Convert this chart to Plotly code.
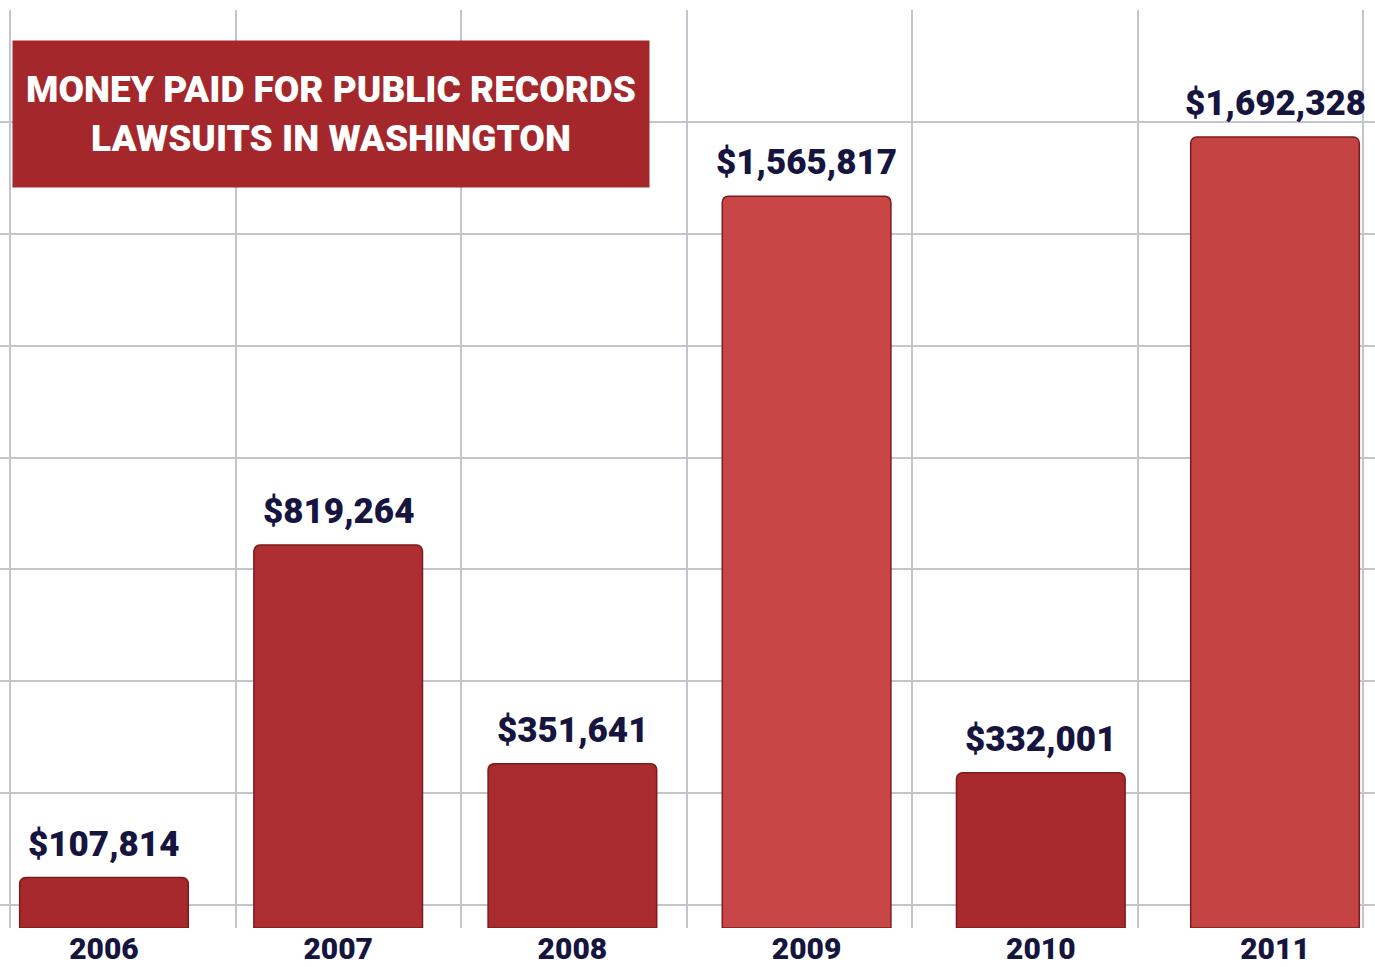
import plotly.graph_objects as go

# ---- data ----
years = ["2006", "2007", "2008", "2009", "2010", "2011"]
amounts = [107814, 819264, 351641, 1565817, 332001, 1692328]
title_lines = ["MONEY PAID FOR PUBLIC RECORDS", "LAWSUITS IN WASHINGTON"]

labels = [f"${v:,}" for v in amounts]

# ---- style ----
bar_colors = ["#a8292c", "#ae2f31", "#aa2b2d", "#c94646", "#a82a2c", "#c64343"]
navy = "#15153f"
grid = "#c4c4cc"
FONT = "Roboto, Liberation Sans, sans-serif"

fig = go.Figure()
fig.add_trace(go.Bar(
    x=years, y=amounts, width=0.72,
    marker=dict(color=bar_colors, line=dict(color="#7a1c1e", width=1.5), cornerradius=6),
    hoverinfo="skip", showlegend=False,
))
# invisible trace to carry the vertical grid axis
fig.add_trace(go.Scatter(x=[0, 1375], y=[0, 0], xaxis="x2", mode="none",
                         hoverinfo="skip", showlegend=False))

# value labels above the bars (category index positions on the category axis)
for i, (v, lab) in enumerate(zip(amounts, labels)):
    fig.add_annotation(x=i, y=v, text=lab, showarrow=False, yanchor="bottom",
                       yshift=11, xref="x", yref="y",
                       font=dict(family=FONT, size=35, color=navy, weight=900))

fig.update_layout(
    width=1375, height=967,
    margin=dict(l=0, r=0, t=10, b=39),
    paper_bgcolor="white", plot_bgcolor="white",
    xaxis=dict(type="category", range=[-0.444, 5.427], showgrid=False, zeroline=False,
               showline=False, ticks="", automargin=False,
               tickfont=dict(family=FONT, size=30, color=navy, weight=900)),
    xaxis2=dict(overlaying="x", range=[0, 1375], tick0=10, dtick=225.5,
                showgrid=True, gridcolor=grid, gridwidth=2, showticklabels=False,
                zeroline=False, showline=False, ticks="", automargin=False),
    yaxis=dict(range=[0, 1964061], tick0=49209, dtick=239353, showgrid=True,
               gridcolor=grid, gridwidth=2, showticklabels=False, zeroline=False,
               showline=False, ticks="", automargin=False),
    font=dict(family=FONT),
)

fig.add_annotation(
    xref="paper", yref="paper", x=12 / 1375, y=1 - (40 - 10) / 918,
    xanchor="left", yanchor="top", width=634, height=144,
    text="<br>".join(title_lines),
    showarrow=False, bgcolor="#a4282b", align="center", valign="middle",
    font=dict(family=FONT, size=37, color="white", weight=900),
)

fig.write_html("out.html")
